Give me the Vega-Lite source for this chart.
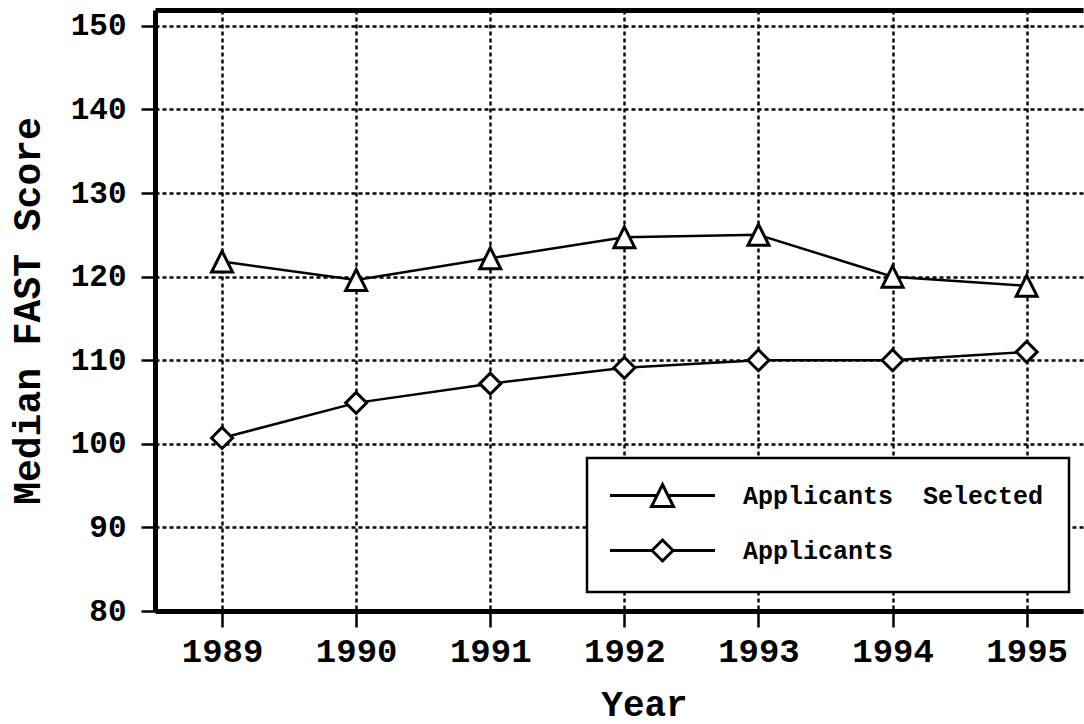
{
  "$schema": "https://vega.github.io/schema/vega-lite/v6.json",
  "width": 928,
  "height": 601,
  "autosize": "none",
  "padding": {"left": 155, "top": 10, "right": 1, "bottom": 113},
  "background": "white",
  "config": {
    "view": {"stroke": null},
    "font": "Liberation Mono",
    "axis": {"labelFont": "Liberation Mono", "titleFont": "Liberation Mono", "labelFontWeight": "bold", "titleFontWeight": "bold", "labelColor": "black", "titleColor": "black"},
    "legend": {"strokeWidth": 2.5}
  },
  "data": {
    "values": [
      {"year": 1989, "series": "Applicants Selected", "score": 121.8},
      {"year": 1990, "series": "Applicants Selected", "score": 119.6},
      {"year": 1991, "series": "Applicants Selected", "score": 122.2},
      {"year": 1992, "series": "Applicants Selected", "score": 124.7},
      {"year": 1993, "series": "Applicants Selected", "score": 125.0},
      {"year": 1994, "series": "Applicants Selected", "score": 120.0},
      {"year": 1995, "series": "Applicants Selected", "score": 118.9},
      {"year": 1989, "series": "Applicants", "score": 100.7},
      {"year": 1990, "series": "Applicants", "score": 104.9},
      {"year": 1991, "series": "Applicants", "score": 107.2},
      {"year": 1992, "series": "Applicants", "score": 109.1},
      {"year": 1993, "series": "Applicants", "score": 110.0},
      {"year": 1994, "series": "Applicants", "score": 110.0},
      {"year": 1995, "series": "Applicants", "score": 111.0}
    ]
  },
  "layer": [
    {
      "mark": {"type": "line", "color": "black", "strokeWidth": 2.5},
      "encoding": {
        "x": {
          "field": "year", "type": "quantitative",
          "scale": {"domain": [1988.5, 1995.42], "nice": false, "zero": false},
          "axis": {
            "orient": "bottom", "values": [1989, 1990, 1991, 1992, 1993, 1994, 1995], "format": "d",
            "title": "Year", "titleFontSize": 36, "titlePadding": 19, "titleX": 489,
            "labelFontSize": 34, "labelPadding": 7, "labelFlush": false,
            "domainColor": "black", "domainWidth": 5,
            "tickColor": "black", "tickWidth": 2.5, "tickSize": 16,
            "grid": true, "gridColor": "black", "gridWidth": 2.4, "gridDash": [4, 3], "gridOpacity": 1
          }
        },
        "y": {
          "field": "score", "type": "quantitative",
          "scale": {"domain": [80, 151.9], "nice": false, "zero": false},
          "axis": {
            "values": [80, 90, 100, 110, 120, 130, 140, 150],
            "title": "Median FAST Score", "titleFontSize": 38, "titlePadding": 23,
            "labelFontSize": 31, "labelPadding": 15,
            "domainColor": "black", "domainWidth": 5,
            "tickColor": "black", "tickWidth": 2.5, "tickSize": 14,
            "grid": true, "gridColor": "black", "gridWidth": 2.4, "gridDash": [4, 3], "gridOpacity": 1
          }
        },
        "detail": {"field": "series"}
      }
    },
    {
      "mark": {"type": "point", "filled": true, "fill": "white", "stroke": "black", "strokeWidth": 3, "opacity": 1},
      "encoding": {
        "x": {
          "field": "year", "type": "quantitative",
          "axis": {"orient": "top", "labels": false, "ticks": false, "grid": false, "title": null, "domainColor": "black", "domainWidth": 5}
        },
        "y": {"field": "score", "type": "quantitative"},
        "shape": {
          "field": "series", "type": "nominal",
          "scale": {"domain": ["Applicants Selected", "Applicants"], "range": ["M0,-1L1,1L-1,1Z", "M-1,0L0,-1L1,0L0,1Z"]},
          "legend": null
        },
        "size": {"value": 441}
      }
    },
    {
      "transform": [{"filter": "datum.score < 0"}],
      "mark": {"type": "point", "stroke": "black", "strokeWidth": 3},
      "encoding": {
        "x": {"field": "year", "type": "quantitative", "axis": null},
        "y": {"field": "score", "type": "quantitative"},
        "shape": {
          "field": "series", "type": "nominal",
          "scale": {"domain": ["Applicants Selected", "Applicants"], "range": ["M-5.25,0L-0.55,0M0.55,0L5.25,0M0,-1.1L1.1,1.1L-1.1,1.1Z", "M-5.25,0L-1.05,0M1.05,0L5.25,0M-1.05,0L0,-1.05L1.05,0L0,1.05Z"]},
          "legend": {
            "orient": "none", "legendX": 432, "legendY": 448,
            "title": null,
            "padding": 25, "rowPadding": 21,
            "strokeColor": "black", "fillColor": "white",
            "labelFont": "Liberation Mono", "labelFontWeight": "bold", "labelFontSize": 25, "labelColor": "black", "labelLimit": 600,
            "labelExpr": "replace(datum.label, ' ', '\u00a0\u00a0')",
            "symbolSize": 400, "symbolStrokeColor": "black", "symbolStrokeWidth": 3, "symbolFillColor": "white", "symbolOpacity": 1,
            "symbolOffset": 38, "labelOffset": 68
          }
        }
      }
    }
  ],
  "resolve": {"axis": {"x": "independent"}, "scale": {"shape": "independent"}}
}
